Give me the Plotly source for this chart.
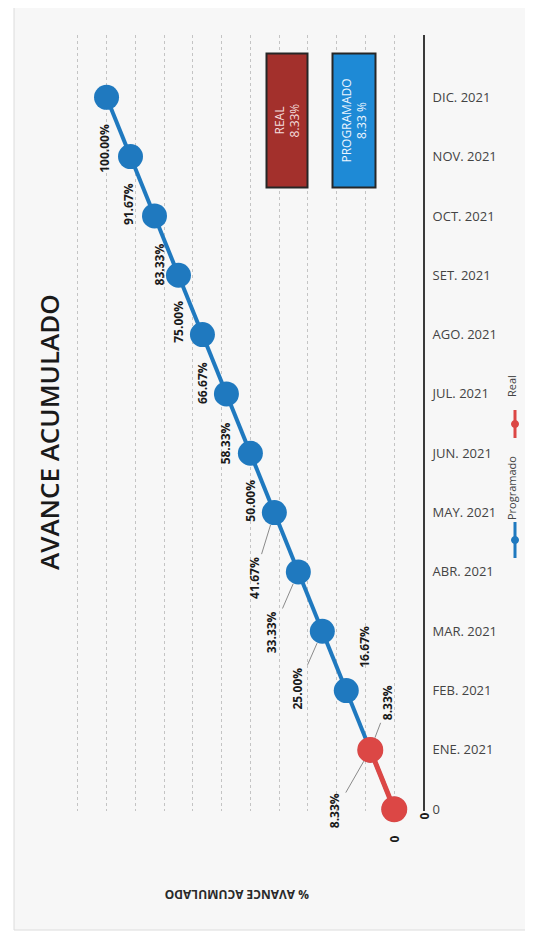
import plotly.graph_objects as go

# ---------------- data ----------------
categories = ["0", "ENE. 2021", "FEB. 2021", "MAR. 2021", "ABR. 2021", "MAY. 2021",
              "JUN. 2021", "JUL. 2021", "AGO. 2021", "SET. 2021", "OCT. 2021",
              "NOV. 2021", "DIC. 2021"]
programado = [0, 8.33, 16.67, 25.00, 33.33, 41.67, 50.00, 58.33, 66.67, 75.00, 83.33, 91.67, 100.00]
real = [0, 8.33]

title_text = "AVANCE ACUMULADO"
value_axis_title = "% AVANCE ACUMULADO"
series_names = ["Programado", "Real"]

# ---------------- styles ----------------
BLUE = "#1f79bf"
RED = "#dc4745"
FONT = "Open Sans"

# label offsets in pixels (dx right, dy down) and leader flag
prog_label_pos = [(30, 7, False), (18, -47, True), (18, -44, False), (-25, 57, True),
                  (-26, 60, True), (-20, 65, True), (0, 47, False), (0, 49, False),
                  (0, 48, False), (0, 46, False), (5, 49, False), (-2, 48, False),
                  (-2, 51, False)]
real_label_pos = [(0, 30, False), (-35, 61, True)]

OFF = 8                      # page margin of the html body
W, H = 533 - 2 * OFF, 943 - 2 * OFF
ML, MR, MT, MB = 41, 102, 27, 124
PW, PH = W - ML - MR, H - MT - MB


def px2paper(sx, sy):
    fx, fy = sx - OFF, sy - OFF
    return (fx - ML) / PW, (H - MB - fy) / PH


def fmt(v):
    return "0" if v == 0 else f"{v:.2f}%"


fig = go.Figure()
fig.add_trace(go.Scatter(
    x=programado, y=categories[:len(programado)], mode="lines+markers",
    name=series_names[0], line=dict(color=BLUE, width=4),
    marker=dict(color=BLUE, size=25), cliponaxis=False, showlegend=False))
fig.add_trace(go.Scatter(
    x=real, y=categories[:len(real)], mode="lines+markers",
    name=series_names[1], line=dict(color=RED, width=5),
    marker=dict(color=RED, size=26), cliponaxis=False, showlegend=False))

annotations = []


def add_labels(values, positions):
    for i, v in enumerate(values):
        dx, dy, leader = positions[i]
        common = dict(x=v, y=i, xref="x", yref="y", text=fmt(v), textangle=-90,
                      font=dict(family=FONT, size=12, color="#1a1a1a", weight="bold"))
        if leader:
            annotations.append(dict(**common, showarrow=True, ax=dx, ay=dy,
                                    arrowhead=0, arrowwidth=1, arrowcolor="#8a8a8a",
                                    standoff=13, startstandoff=1))
        else:
            annotations.append(dict(**common, showarrow=False, xshift=dx, yshift=-dy,
                                    xanchor="center", yanchor="middle"))


add_labels(programado, prog_label_pos)
add_labels(real, real_label_pos)


def paper_text(sx, sy, text, angle, font, **kw):
    x, y = px2paper(sx, sy)
    annotations.append(dict(x=x, y=y, xref="paper", yref="paper", text=text,
                            textangle=angle, showarrow=False, xanchor="center",
                            yanchor="middle", font=font, **kw))


# title (rotated)
paper_text(49, 432, title_text, -90,
           dict(family=FONT, size=26, color="#1a1a1a", weight=600))
# value axis title (upside-down)
paper_text(237, 895, value_axis_title, 180,
           dict(family=FONT, size=12, color="#2a2a2a", weight="bold"))

# summary boxes
paper_text(286.5, 121, f"{series_names[1].upper()}<br>{fmt(real[-1])}", -90,
           dict(family=FONT, size=12, color="#f4dede"),
           width=130, height=37, bgcolor="#a3302c", bordercolor="#262626",
           borderwidth=2, borderpad=1)
paper_text(353.5, 121,
           f"{series_names[0].upper()}<br>{fmt(programado[len(real) - 1]).replace('%', ' %')}", -90,
           dict(family=FONT, size=12, color="#eef6ff"),
           width=130, height=39, bgcolor="#1e8ad6", bordercolor="#262626",
           borderwidth=2, borderpad=1)

# background page + manual (rotated) legend
shapes = []
x0, y0 = px2paper(14, 0)
x1, y1 = px2paper(540, 930)
shapes.append(dict(type="rect", xref="paper", yref="paper", x0=x0, y0=y0, x1=x1, y1=y1,
                   fillcolor="#f7f7f7", line=dict(color="#dcdcdc", width=1), layer="below"))

legend_items = [(series_names[0], BLUE, 522, 558, 540, 488),
                (series_names[1], RED, 410, 438, 424, 386)]
for name, col, ya, yb, yc, yt in legend_items:
    lx, la = px2paper(515, ya)
    _, lb = px2paper(515, yb)
    _, lc = px2paper(515, yc)
    shapes.append(dict(type="line", xref="paper", yref="paper", x0=lx, x1=lx, y0=la, y1=lb,
                       line=dict(color=col, width=3)))
    rxp, ryp = 3.5 / PW, 3.5 / PH
    shapes.append(dict(type="circle", xref="paper", yref="paper", x0=lx - rxp, x1=lx + rxp,
                       y0=lc - ryp, y1=lc + ryp, fillcolor=col, line=dict(color=col, width=1)))
    paper_text(512, yt, name, -90, dict(family=FONT, size=11, color="#444"))

fig.update_layout(
    width=W, height=H,
    margin=dict(l=ML, r=MR, t=MT, b=MB),
    paper_bgcolor="#ffffff", plot_bgcolor="rgba(0,0,0,0)",
    showlegend=False,
    xaxis=dict(range=[120, -10], showticklabels=False, ticks="", zeroline=False,
               showgrid=True, gridcolor="#c4c4c4", griddash="dot", gridwidth=1,
               tick0=0, dtick=10, showline=False, fixedrange=True),
    yaxis=dict(type="category", range=[-0.03, 13.05], side="right",
               categoryorder="array", categoryarray=categories,
               tickmode="array", tickvals=categories, ticktext=categories,
               showgrid=False, zeroline=False, showline=True, linecolor="#3a3a3a",
               linewidth=2, ticks="", ticklabelstandoff=5,
               tickfont=dict(family=FONT, size=13, color="#444")),
    annotations=annotations,
    shapes=shapes,
)

fig.write_html("out.html")
